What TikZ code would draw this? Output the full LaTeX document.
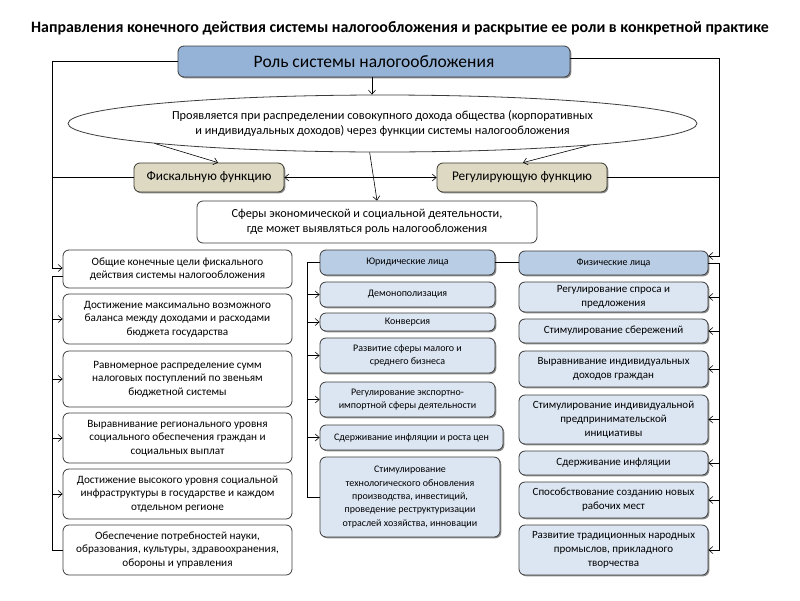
\documentclass[tikz,border=0pt]{standalone}
\usepackage{fontspec}
\setmainfont{Carlito}
\usetikzlibrary{shapes.geometric,arrows.meta,shadows}
\definecolor{topfill}{HTML}{95B3D7}
\definecolor{funfill}{HTML}{DDD9C3}
\definecolor{funedge}{HTML}{3A3A30}
\definecolor{hdrfill}{HTML}{B9CDE5}
\definecolor{itfill}{HTML}{DCE6F2}
\definecolor{edgec}{HTML}{3C3C3C}
\begin{document}
\begin{tikzpicture}[x=1pt,y=-1pt,
  shad/.style={drop shadow={shadow xshift=1.3pt,shadow yshift=-1.3pt,opacity=0.45,fill=black}},
  base/.style={draw=edgec,line width=0.8pt,rounded corners=6pt,align=center,inner sep=1pt,
    font=\fontsize{10}{13.3}\selectfont},
  lbox/.style={base,fill=white,minimum width=229pt,font=\fontsize{11.2}{13.6}\selectfont},
  hbox/.style={base,fill=hdrfill,shad},
  ibox/.style={base,fill=itfill,shad},
  rbox/.style={ibox,font=\fontsize{11}{13.8}\selectfont},
  funbox/.style={base,fill=funfill,draw=funedge,shad,minimum height=29pt,
    font=\fontsize{13.3}{15}\selectfont},
  arr/.style={-{Straight Barb[length=4pt,width=7pt]},line width=0.6pt},
  darr/.style={{Straight Barb[length=4pt,width=7pt]}-{Straight Barb[length=4pt,width=7pt]},line width=0.6pt},
  ln/.style={line width=0.6pt}
]
\useasboundingbox (0,0) rectangle (800,600);
\fill[white] (0,0) rectangle (800,600);

\node[font=\bfseries\fontsize{15.9}{18}\selectfont] (title) at (400,28)
  {Направления конечного действия системы налогообложения и раскрытие ее роли в конкретной практике};

\node[base,fill=topfill,shad,minimum width=392pt,minimum height=31pt,
  font=\fontsize{17.5}{19}\selectfont] (top) at (374,61.5) {Роль системы налогообложения};

\node[ellipse,draw=edgec,line width=0.8pt,minimum width=629pt,minimum height=57pt,inner sep=0pt,
  align=center,font=\fontsize{12.3}{15}\selectfont] (ell) at (382.5,123.5)
  {Проявляется при распределении совокупного дохода общества (корпоративных\\
   и индивидуальных доходов) через функции системы налогообложения};

\node[funbox,minimum width=150pt] (fisc) at (209,177.5) {Фискальную функцию};
\node[funbox,minimum width=170pt] (reg) at (522,177.5) {Регулирующую функцию};

\node[base,fill=white,minimum width=340pt,minimum height=42pt,
  font=\fontsize{12.3}{15}\selectfont] (sf) at (367,222)
  {Сферы экономической и социальной деятельности,\\ где может выявляться роль налогообложения};

% left column
\node[lbox,minimum height=38pt] (l1) at (177.5,269) {Общие конечные цели фискального\\ действия системы налогообложения};
\node[lbox,minimum height=50pt] (l2) at (177.5,319) {Достижение максимально возможного\\ баланса между доходами и расходами\\ бюджета государства};
\node[lbox,minimum height=56pt] (l3) at (177.5,379) {Равномерное распределение сумм\\ налоговых поступлений по звеньям\\ бюджетной системы};
\node[lbox,minimum height=50pt] (l4) at (177.5,438) {Выравнивание регионального уровня\\ социального обеспечения граждан и\\ социальных выплат};
\node[lbox,minimum height=50pt] (l5) at (177.5,494) {Достижение высокого уровня социальной\\ инфраструктуры в государстве и каждом\\ отдельном регионе};
\node[lbox,minimum height=50pt] (l6) at (177.5,550) {Обеспечение потребностей науки,\\ образования, культуры, здравоохранения,\\ обороны и управления};

% middle column
\node[hbox,minimum width=175pt,minimum height=25pt] (m0) at (407.5,262.5) {Юридические лица};
\node[ibox,minimum width=175pt,minimum height=25pt] (m1) at (407.5,294.5) {Демонополизация};
\node[ibox,minimum width=175pt,minimum height=18pt] (m2) at (407.5,322) {Конверсия};
\node[ibox,minimum width=175pt,minimum height=35pt] (m3) at (407.5,355.5) {Развитие сферы малого и\\ среднего бизнеса};
\node[ibox,minimum width=175pt,minimum height=35pt] (m4) at (407.5,399.5) {Регулирование экспортно-\\ импортной сферы деятельности};
\node[ibox,minimum width=183pt,minimum height=25pt] (m5) at (411.5,437.5) {Сдерживание инфляции и роста цен};
\node[ibox,minimum width=180pt,minimum height=80pt] (m6) at (410,497) {Стимулирование\\ технологического обновления\\ производства, инвестиций,\\ проведение реструктуризации\\ отраслей хозяйства, инновации};

% right column
\node[hbox,minimum width=189pt,minimum height=24pt] (r0) at (613.5,263) {Физические лица};
\node[rbox,minimum width=189pt,minimum height=30pt] (r1) at (613.5,297) {Регулирование спроса и\\ предложения};
\node[rbox,minimum width=189pt,minimum height=24pt] (r2) at (613.5,331) {Стимулирование сбережений};
\node[rbox,minimum width=189pt,minimum height=36pt] (r3) at (613.5,369) {Выравнивание индивидуальных\\ доходов граждан};
\node[rbox,minimum width=189pt,minimum height=49pt] (r4) at (613.5,419.5) {Стимулирование индивидуальной\\ предпринимательской\\ инициативы};
\node[rbox,minimum width=189pt,minimum height=24pt] (r5) at (613.5,463) {Сдерживание инфляции};
\node[rbox,minimum width=189pt,minimum height=36pt] (r6) at (613.5,500) {Способствование созданию новых\\ рабочих мест};
\node[rbox,minimum width=189pt,minimum height=50pt] (r7) at (613.5,550) {Развитие традиционных народных\\ промыслов, прикладного\\ творчества};

% connectors top part
\draw[arr] ([xshift=-2pt]top.south) -- ([xshift=-2pt]top.south |- ell.north);
\draw[arr] (ell.185.3) -- ([xshift=9pt]fisc.north);
\draw[arr] (ell.354.6) -- ([xshift=1pt]reg.north);
\draw[arr] (ell.246.3) -- ([xshift=10pt]sf.north);
\draw[darr] (fisc.east) -- (reg.west);

% left outer and fiscal lines
\coordinate (lx) at (52.5,0);
\draw[arr] (top.west) -- (top.west -| lx) |- ([yshift=1pt]l1.west);
\draw[ln] (fisc.west) -- (fisc.west -| lx);
\draw[ln] ([yshift=-7pt]l1.west) -| (l6.west -| lx) -- (l6.west);
\foreach \n in {l2,l3,l4,l5} \draw[arr] (\n.west -| lx) -- (\n.west);

% middle
\coordinate (mx) at (307,0);
\draw[ln] (m0.west) -| (m6.west -| mx) -- (m6.west);
\foreach \n in {m1,m2,m3,m4,m5} \draw[arr] (\n.west -| mx) -- (\n.west);
\draw[ln] (m0.east) -- (m0.east -| r0.west);

% right outer and regulating lines
\coordinate (rx) at (719.5,0);
\draw[arr] ([yshift=3.5pt]top.east) -- ([yshift=3.5pt]top.east -| rx) |- ([yshift=7pt]r0.east);
\draw[ln] (reg.east) -- (reg.east -| rx);
\draw[ln] (r0.east) -| (r7.east -| rx);
\foreach \n in {r1,r2,r3,r4,r5,r6,r7} \draw[arr] (\n.east -| rx) -- (\n.east);
\end{tikzpicture}
\end{document}
